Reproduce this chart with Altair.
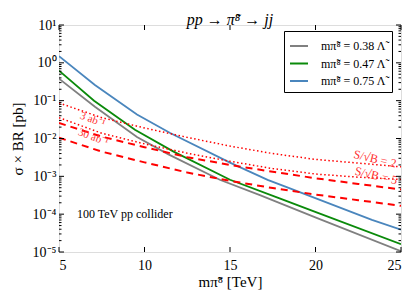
import altair as alt
import pandas as pd

W, H = 342, 227
FONT = "Liberation Serif"

# ---- signal curves ----
mass_038 = [5, 7.1, 9.56, 11.4, 14.4, 16.75, 20.1, 25]
xsec_038 = [0.38, 0.069, 0.011, 0.0038, 8.1e-4, 3.2e-4, 7.9e-5, 1.05e-5]
mass_047 = [5, 7.05, 9.44, 11.7, 15, 17.9, 20.1, 25]
xsec_047 = [0.62, 0.10, 0.017, 0.0045, 8.1e-4, 2.6e-4, 1.1e-4, 1.6e-5]
mass_075 = [5, 7.1, 9.56, 11.5, 15, 17.2, 18.2, 23.3, 25]
xsec_075 = [1.5, 0.26, 0.043, 0.014, 0.0023, 8.1e-4, 5.4e-4, 7.1e-5, 3.9e-5]

sig_labels = ["m\u03c0\u0303\u2078 = 0.38 \u039b\u0303",
              "m\u03c0\u0303\u2078 = 0.47 \u039b\u0303",
              "m\u03c0\u0303\u2078 = 0.75 \u039b\u0303"]
sig_colors = ["#808080", "#0a8a0a", "#4a86bd"]

# ---- sensitivity curves ----
mass_red = [5, 7.5, 10, 12.5, 15, 17.5, 20, 22.5, 25]
s2_3ab = [0.087, 0.0355, 0.019, 0.0107, 0.0063, 0.0040, 0.0028, 0.00224, 0.00178]
s5_3ab = [0.0355, 0.0138, 0.0072, 0.0041, 0.0025, 0.0016, 0.00115, 0.00095, 0.00083]
s2_30ab = [0.0257, 0.0112, 0.0059, 0.0032, 0.0020, 0.00132, 0.00089, 0.00063, 0.00045]
s5_30ab = [0.0105, 0.0045, 0.00234, 0.00126, 0.00076, 0.00049, 0.00033, 0.000234, 0.000166]

# ---- ticks ----
y_major = [1e-5, 1e-4, 1e-3, 1e-2, 1e-1, 1, 10]
y_minor = [m * 10.0 ** k for k in range(-5, 1) for m in range(2, 10)]
x_major = [5, 10, 15, 20, 25]
y_tick_text = ["10\u207b\u2075", "10\u207b\u2074", "10\u207b\u00b3", "10\u207b\u00b2",
               "10\u207b\u00b9", "10\u2070", "10\u00b9"]

sig_rows = []
for lab, ms, xsv in zip(sig_labels, [mass_038, mass_047, mass_075], [xsec_038, xsec_047, xsec_075]):
    for m, s in zip(ms, xsv):
        sig_rows.append({"m": m, "s": s, "curve": lab})
sig_df = pd.DataFrame(sig_rows)

def red_df(curves):
    rows = []
    for name, vals in curves.items():
        for m, s in zip(mass_red, vals):
            rows.append({"m": m, "s": s, "curve": name})
    return pd.DataFrame(rows)

dotted_df = red_df({"s2_3ab": s2_3ab, "s5_3ab": s5_3ab})
dashed_df = red_df({"s2_30ab": s2_30ab, "s5_30ab": s5_30ab})

xs = alt.Scale(domain=[5, 25], nice=False, zero=False)
ys = alt.Scale(type="log", domain=[1e-5, 10], nice=False)

label_expr = "[" + ",".join("'%s'" % t for t in y_tick_text) + "][round(log(datum.value)/LN10)+5]"

x_axis = alt.Axis(values=x_major, ticks=False, domain=False, grid=False,
                  labelFont=FONT, labelFontSize=14, labelPadding=6, labelColor="black",
                  title="m\u03c0\u0303\u2078 [TeV]", titleFont=FONT, titleFontSize=15,
                  titleFontWeight="normal", titleColor="black", titlePadding=2)
y_axis = alt.Axis(values=y_major, ticks=False, domain=False, grid=False,
                  labelExpr=label_expr, labelFont=FONT, labelFontSize=14,
                  labelPadding=3, labelColor="black",
                  title="\u03c3 \u00d7 BR [pb]", titleFont=FONT, titleFontSize=15,
                  titleFontWeight="normal", titleColor="black",
                  titleX=-37, titleY=H / 2, titleBaseline="alphabetic", titleAngle=270)

signal = alt.Chart(sig_df).mark_line(strokeWidth=1.8, clip=True).encode(
    x=alt.X("m:Q", scale=xs, axis=x_axis),
    y=alt.Y("s:Q", scale=ys, axis=y_axis),
    color=alt.Color("curve:N", scale=alt.Scale(domain=sig_labels, range=sig_colors),
                    legend=alt.Legend(title=None, orient="none", legendX=225, legendY=6,
                                      symbolType="stroke", symbolSize=324,
                                      symbolStrokeWidth=2, labelFont=FONT,
                                      labelFontSize=12, labelOffset=12, labelColor="black",
                                      padding=5, rowPadding=1.5,
                                      strokeColor="black", fillColor="white",
                                      cornerRadius=0, labelLimit=200)),
    order="m:Q",
)

dotted = alt.Chart(dotted_df).mark_line(color="red", strokeWidth=1.5,
                                        strokeDash=[1.5, 2.5], clip=True).encode(
    x=alt.X("m:Q", scale=xs), y=alt.Y("s:Q", scale=ys), detail="curve:N", order="m:Q")
dashed = alt.Chart(dashed_df).mark_line(color="red", strokeWidth=2,
                                        strokeDash=[7, 5], clip=True).encode(
    x=alt.X("m:Q", scale=xs), y=alt.Y("s:Q", scale=ys), detail="curve:N", order="m:Q")

# annotations
note_df = pd.DataFrame({"m": [6.05], "s": [1e-4], "t": ["100 TeV pp collider"]})
note = alt.Chart(note_df).mark_text(font=FONT, fontSize=12, align="left",
                                    baseline="middle", color="black").encode(
    x=alt.X("m:Q", scale=xs), y=alt.Y("s:Q", scale=ys), text="t:N")

lumi_df = pd.DataFrame({"m": [6.95, 7.0], "s": [0.031, 0.0107],
                        "t": ["3 ab\u207b\u00b9", "30 ab\u207b\u00b9"]})
lumi = alt.Chart(lumi_df).mark_text(font=FONT, fontSize=11, angle=20,
                                    color="#ff3030").encode(
    x=alt.X("m:Q", scale=xs), y=alt.Y("s:Q", scale=ys), text="t:N")

sig_txt_df = pd.DataFrame({"m": [23.48, 23.55], "s": [0.0029, 0.00105],
                           "t": ["S/\u221aB = 2", "S/\u221aB = 5"]})
sig_txt = alt.Chart(sig_txt_df).mark_text(font=FONT, fontSize=12, angle=13,
                                          color="#ff3030").encode(
    x=alt.X("m:Q", scale=xs), y=alt.Y("s:Q", scale=ys), text="t:N")

# inward ticks
ymaj_df = pd.DataFrame({"v": y_major})
ymin_df = pd.DataFrame({"v": y_minor})
xmaj_df = pd.DataFrame({"v": x_major})
tick_style = dict(color="black", strokeWidth=1)

def yticks(df, length):
    left = alt.Chart(df).mark_rule(**tick_style).encode(
        y=alt.Y("v:Q", scale=ys), x=alt.value(0), x2=alt.value(length))
    right = alt.Chart(df).mark_rule(**tick_style).encode(
        y=alt.Y("v:Q", scale=ys), x=alt.value(W), x2=alt.value(W - length))
    return [left, right]

def xticks(df, length):
    bottom = alt.Chart(df).mark_rule(**tick_style).encode(
        x=alt.X("v:Q", scale=xs), y=alt.value(H), y2=alt.value(H - length))
    top = alt.Chart(df).mark_rule(**tick_style).encode(
        x=alt.X("v:Q", scale=xs), y=alt.value(0), y2=alt.value(length))
    return [bottom, top]

layers = [signal, dotted, dashed, note, lumi, sig_txt] + yticks(ymaj_df, 5) + \
    yticks(ymin_df, 2.5) + xticks(xmaj_df, 5)

chart = alt.layer(*layers).properties(
    width=W, height=H,
    autosize=alt.AutoSizeParams(type="none"),
    padding={"left": 51, "top": 17, "right": 7, "bottom": 40},
    title=alt.Title("pp \u2192 \u03c0\u0303\u2078 \u2192 jj", font=FONT, fontSize=16,
                    fontStyle="italic", fontWeight="normal", anchor="middle",
                    frame="group", offset=2, dy=12, color="black"),
).configure_view(stroke="black", strokeWidth=1.2).configure(background="white")

chart.save("out.html", embed_options={"renderer": "svg", "actions": False})
